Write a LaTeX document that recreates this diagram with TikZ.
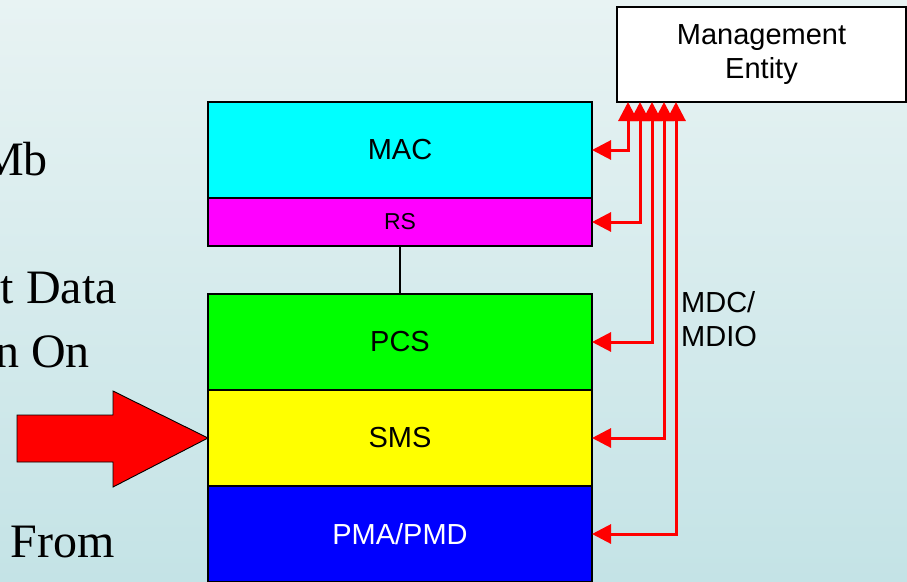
\documentclass[tikz,border=0pt]{standalone}
\usepackage{fontspec}
\setmainfont{Liberation Serif}
\setsansfont{Liberation Sans}
\usetikzlibrary{arrows.meta}
\definecolor{bgtop}{RGB}{232,243,243}
\definecolor{bgbot}{RGB}{196,227,230}
\definecolor{maccol}{RGB}{0,255,255}
\definecolor{rscol}{RGB}{255,0,255}
\definecolor{pcscol}{RGB}{0,255,0}
\definecolor{smscol}{RGB}{255,255,0}
\definecolor{pmacol}{RGB}{0,0,255}
\definecolor{linkred}{RGB}{255,0,0}
\begin{document}
\begin{tikzpicture}[x=1pt,y=-1pt,
  layer/.style={draw=black, line width=1.3pt, minimum width=384pt, inner sep=0pt, outer sep=0pt,
    font=\sffamily\fontsize{29}{34}\selectfont, anchor=north west},
  link/.style={draw=linkred, line width=3pt,
    {Triangle[length=19pt,width=19pt]}-{Triangle[length=19pt,width=19pt]}},
  side/.style={anchor=base east, inner sep=0pt, font=\rmfamily\fontsize{48}{50}\selectfont}]
\shade[top color=bgtop, bottom color=bgbot] (0,0) rectangle (907,581);
\useasboundingbox (0,0) rectangle (907,581);

% left text fragments
\node[side] (l1) at (48,175) {Mb};
\node[side] (l2) at (117,303) {t Data};
\node[side] (l3) at (90,367) {n On};
\node[side] (l4) at (115,557) {From};

% layers
\node[layer, fill=maccol, minimum height=96pt] (mac) at (208,102) {MAC};
\node[layer, fill=rscol, minimum height=48pt, font=\sffamily\fontsize{23}{27}\selectfont] (rs) at (208,198) {RS};
\node[layer, fill=pcscol, minimum height=96pt] (pcs) at (208,294) {PCS};
\node[layer, fill=smscol, minimum height=96pt] (sms) at (208,390) {SMS};
\node[layer, fill=pmacol, minimum height=96pt, text=white] (pma) at (208,486) {PMA/PMD};

\draw[black, line width=1.3pt] (rs.south) -- (pcs.north);

% management entity
\node[draw=black, fill=white, line width=1.3pt, minimum width=289pt, minimum height=95pt,
  inner sep=0pt, outer sep=0pt, align=center, anchor=north west,
  font=\sffamily\fontsize{29}{34}\selectfont] (me) at (617,7) {Management\\Entity};

\node[anchor=base west, inner sep=0pt, align=left, font=\sffamily\fontsize{29}{34}\selectfont]
  (mdc) at (681,346) {MDC/\\MDIO};

% management links
\coordinate (t1) at (628,102);
\coordinate (t2) at (640,102);
\coordinate (t3) at (652,102);
\coordinate (t4) at (664,102);
\coordinate (t5) at (676,102);
\draw[link] (t5) |- (pma.east);
\draw[link] (t4) |- (sms.east);
\draw[link] (t3) |- (pcs.east);
\draw[link] (t2) |- (rs.east);
\draw[link] (t1) |- (mac.east);

% big block arrow
\filldraw[fill=linkred, draw=black, line width=0.9pt]
  (17,415) -- (113,415) -- (113,391) -- (sms.west) -- (113,487) -- (113,462) -- (17,462) -- cycle;
\end{tikzpicture}
\end{document}
